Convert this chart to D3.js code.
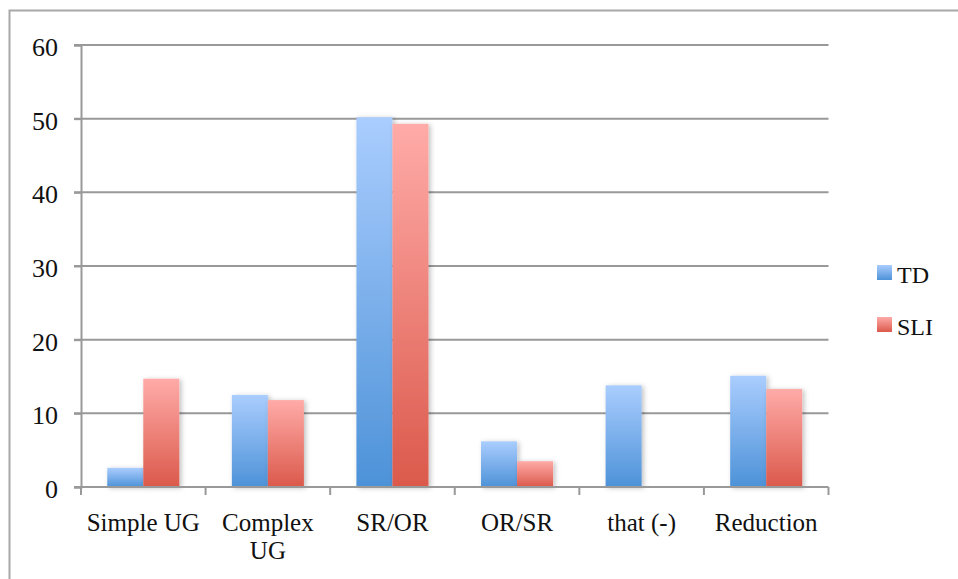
<!DOCTYPE html>
<html lang="en">
<head>
<meta charset="UTF-8" />
<title>TD vs SLI</title>
<script src="https://cdn.jsdelivr.net/npm/d3@7"></script>
<style>
	body { margin: 0; background: #fff; }
	text { font-family: "Liberation Serif", "Times New Roman", serif; fill: #111; }
</style>
</head>
<body>
<svg id="vis" width="958" height="579"></svg>
<script>
	// donnees
	const categories = ["Simple UG", "Complex UG", "SR/OR", "OR/SR", "that (-)", "Reduction"];
	const seriesNames = ["TD", "SLI"];
	const tdValues = [2.6, 12.5, 50.2, 6.2, 13.8, 15.1];
	const sliValues = [14.7, 11.8, 49.3, 3.5, 0, 13.3];
	const yTicks = [0, 10, 20, 30, 40, 50, 60];

	const colors = {
		TD: ["#aacdfe", "#4d92d8"],
		SLI: ["#ffaba8", "#db594b"]
	};

	const svg = d3.select("#vis");

	// cadre exterieur
	svg.append("rect")
		.attr("x", 9.5).attr("y", 10.5)
		.attr("width", 1000).attr("height", 1000)
		.attr("fill", "none")
		.attr("stroke", "#a8a8a8")
		.attr("stroke-width", 2);

	const defs = svg.append("defs");
	const f = defs.append("filter").attr("id", "shadow")
		.attr("x", "-20%").attr("y", "-20%").attr("width", "150%").attr("height", "150%");
	f.append("feDropShadow")
		.attr("dx", 2).attr("dy", 1)
		.attr("stdDeviation", 2.5)
		.attr("flood-color", "#000")
		.attr("flood-opacity", 0.25);

	seriesNames.forEach(function (s) {
		let g = defs.append("linearGradient").attr("id", "grad" + s)
			.attr("x1", 0).attr("y1", 0).attr("x2", 0).attr("y2", 1);
		g.append("stop").attr("offset", "0%").attr("stop-color", colors[s][0]);
		g.append("stop").attr("offset", "100%").attr("stop-color", colors[s][1]);
	});

	const plotLeft = 81, plotRight = 828.5, plotTop = 45, plotBottom = 487;

	// Echelles
	let x = d3.scaleBand().domain(categories).range([plotLeft, plotRight]);
	let y = d3.scaleLinear().domain([0, 60]).range([plotBottom, plotTop]);
	let xs = d3.scaleBand().domain(seriesNames)
		.range([0, x.bandwidth()]).paddingOuter(0.729).paddingInner(0);

	// grille
	svg.append("g").selectAll("line")
		.data(yTicks.filter(d => d > 0))
		.join("line")
		.attr("x1", plotLeft - 7).attr("x2", plotRight)
		.attr("y1", d => y(d)).attr("y2", d => y(d))
		.attr("stroke", "#999")
		.attr("stroke-width", 2);

	// barres
	const rows = categories.map((c, i) => ({ cat: c, TD: tdValues[i], SLI: sliValues[i] }));
	let gBars = svg.append("g");
	rows.forEach(function (r) {
		seriesNames.forEach(function (s) {
			if (r[s] <= 0) return;
			gBars.append("rect")
				.attr("x", x(r.cat) + xs(s))
				.attr("y", y(r[s]))
				.attr("width", xs.bandwidth())
				.attr("height", y(0) - y(r[s]))
				.attr("fill", "url(#grad" + s + ")")
				.attr("filter", "url(#shadow)");
		});
	});

	// Axe Y
	let yAxis = d3.axisLeft(y).tickValues(yTicks).tickSize(7).tickPadding(16);
	let gy = svg.append("g").attr("transform", "translate(" + plotLeft + ",0)").call(yAxis);
	gy.select(".domain").attr("stroke", "#999").attr("stroke-width", 2);
	gy.selectAll(".tick line").attr("stroke", "#999").attr("stroke-width", 2);
	gy.selectAll(".tick text")
		.attr("font-family", "Liberation Serif, serif")
		.attr("font-size", 26)
		.attr("fill", "#111")
		.attr("dy", "0.4em");

	// Axe X
	let gx = svg.append("g").attr("transform", "translate(0," + plotBottom + ")");
	gx.append("line")
		.attr("x1", plotLeft - 7).attr("x2", plotRight)
		.attr("stroke", "#999").attr("stroke-width", 2);
	let tickPos = categories.map(c => x(c)).concat([plotRight]);
	gx.selectAll(".tk").data(tickPos).join("line")
		.attr("x1", d => d).attr("x2", d => d)
		.attr("y1", 0).attr("y2", 8)
		.attr("stroke", "#999").attr("stroke-width", 2);

	const labelLines = { "Complex UG": ["Complex", "UG"] };
	categories.forEach(function (c) {
		let lines = labelLines[c] || [c];
		let t = gx.append("text")
			.attr("text-anchor", "middle")
			.attr("font-size", 25)
			.attr("transform", "translate(" + (x(c) + x.bandwidth() / 2) + ",44)");
		lines.forEach(function (l, i) {
			t.append("tspan").attr("x", 0).attr("dy", i === 0 ? 0 : 28).text(l);
		});
	});

	// legende
	let gLeg = svg.append("g").attr("transform", "translate(877,265)");
	seriesNames.forEach(function (s, i) {
		let g = gLeg.append("g").attr("transform", "translate(0," + (i * 52) + ")");
		g.append("rect")
			.attr("width", 15).attr("height", 15)
			.attr("fill", "url(#grad" + s + ")");
		g.append("text")
			.attr("x", 20).attr("y", 18)
			.attr("font-size", 24)
			.text(s);
	});
</script>
</body>
</html>
